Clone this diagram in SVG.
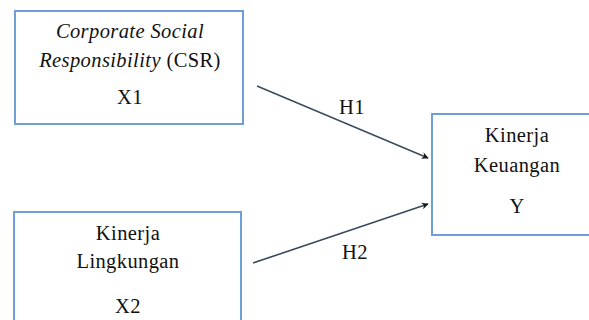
<svg xmlns="http://www.w3.org/2000/svg" width="589" height="320" viewBox="0 0 589 320">
<style>
.box{fill:#fff;stroke:#6f9fd8;stroke-width:2}
.t{font-family:'Liberation Serif','DejaVu Serif',serif;font-size:20.5px;letter-spacing:0.4px;fill:#111;text-anchor:middle}
.i{font-style:italic}
.c{stroke:#3a4a5e;stroke-width:1.6;fill:none;marker-end:url(#ah)}
</style>
<defs>
<marker id="ah" viewBox="0 0 10 10" refX="9" refY="5" markerWidth="7" markerHeight="7" markerUnits="userSpaceOnUse" orient="auto">
<path d="M0,0 L10,5 L0,10 L3,5 Z" fill="#1a1a1a"/>
</marker>
</defs>
<rect width="589" height="320" fill="#fff"/>
<g id="x1">
<rect class="box" x="15" y="11" width="228" height="113"/>
<text class="t i" x="130" y="38">Corporate Social</text>
<text class="t" x="130" y="67"><tspan class="i">Responsibility</tspan> (CSR)</text>
<text class="t" x="130" y="104">X1</text>
</g>
<g id="x2">
<rect class="box" x="14" y="212" width="227" height="120"/>
<text class="t" x="128" y="240">Kinerja</text>
<text class="t" x="128" y="268">Lingkungan</text>
<text class="t" x="128" y="313">X2</text>
</g>
<g id="y">
<rect class="box" x="432" y="114" width="170" height="121"/>
<text class="t" x="517" y="142">Kinerja</text>
<text class="t" x="517" y="172">Keuangan</text>
<text class="t" x="517" y="213">Y</text>
</g>
<g id="connectors">
<line class="c" x1="257" y1="86" x2="428" y2="158"/>
<line class="c" x1="253" y1="263" x2="428" y2="204"/>
<text class="t" x="352" y="114">H1</text>
<text class="t" x="355" y="259">H2</text>
</g>
</svg>
